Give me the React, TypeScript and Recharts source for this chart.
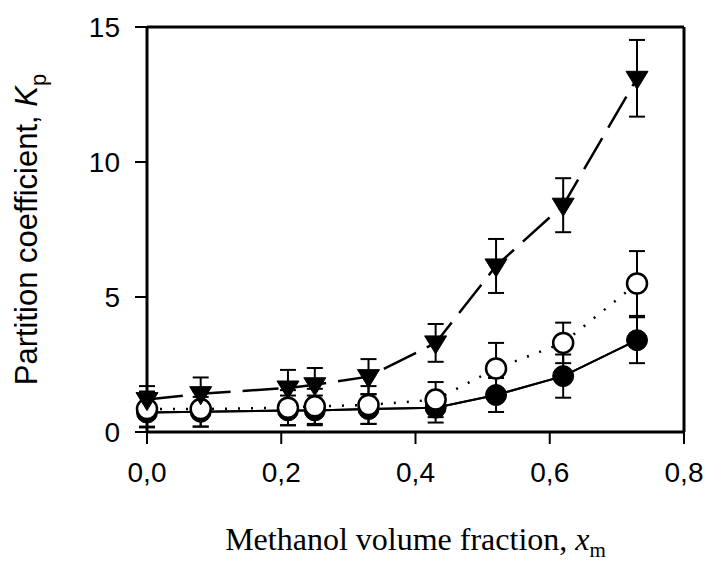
import React from 'react';
import { ComposedChart, Line, XAxis, YAxis, ErrorBar, ReferenceLine } from 'recharts';

const xValues = [0, 0.08, 0.21, 0.25, 0.33, 0.43, 0.52, 0.62, 0.73];
const triangleValues = [1.2, 1.42, 1.63, 1.75, 2.05, 3.3, 6.15, 8.4, 13.1];
const triangleErrors = [0.5, 0.6, 0.67, 0.62, 0.65, 0.7, 1.0, 1.0, 1.42];
const openValues = [0.85, 0.85, 0.9, 0.95, 1.0, 1.2, 2.35, 3.3, 5.5];
const openErrors = [0.65, 0.65, 0.65, 0.65, 0.7, 0.65, 0.95, 0.75, 1.2];
const filledValues = [0.72, 0.75, 0.8, 0.8, 0.85, 0.9, 1.37, 2.07, 3.4];
const filledErrors = [0.55, 0.55, 0.55, 0.55, 0.55, 0.55, 0.63, 0.8, 0.85];
const xTicks = [0, 0.2, 0.4, 0.6, 0.8];
const yTicks = [0, 5, 10, 15];

const data = xValues.map((x, i) => ({
  x,
  tri: triangleValues[i],
  triErr: triangleErrors[i],
  open: openValues[i],
  openErr: openErrors[i],
  filled: filledValues[i],
  filledErr: filledErrors[i],
}));

const SANS = 'Arial, "Liberation Sans", sans-serif';
const SERIF = '"Times New Roman", "Liberation Serif", serif';

const TriangleDot = (props: any) => {
  const { cx, cy, index } = props;
  if (cx == null || cy == null) return <g key={`t-${index}`} />;
  return (
    <path
      key={`t-${index}`}
      d={`M${cx - 11},${cy - 7} L${cx + 11},${cy - 7} L${cx},${cy + 11} Z`}
      fill="#000"
      stroke="#000"
      strokeWidth={1}
    />
  );
};

const XTitle = (props: any) => {
  const vb = props.viewBox || {};
  const cx = vb.x + vb.width / 2;
  const y = vb.y + 118;
  return (
    <text x={cx} y={y} textAnchor="middle" fontFamily={SERIF} fontSize={32} fill="#000">
      <tspan>Methanol volume fraction, </tspan>
      <tspan fontStyle="italic">x</tspan>
      <tspan fontSize={21} dy={7}>m</tspan>
    </text>
  );
};

const YTitle = (props: any) => {
  const vb = props.viewBox || {};
  const x = vb.x + 37;
  const cy = vb.y + vb.height / 2;
  return (
    <text
      x={x}
      y={cy}
      textAnchor="middle"
      fontFamily={SANS}
      fontSize={31}
      fill="#000"
      transform={`rotate(-90 ${x} ${cy})`}
    >
      <tspan>Partition coefficient, </tspan>
      <tspan fontStyle="italic">K</tspan>
      <tspan fontSize={22} dy={9}>p</tspan>
    </text>
  );
};

export default function App() {
  return (
    <div style={{ position: 'absolute', left: 0, top: 0, background: '#fff' }}>
      <ComposedChart
        width={709}
        height={563}
        data={data}
        margin={{ top: 27, right: 25, bottom: 0, left: 0 }}
      >
        <XAxis
          type="number"
          dataKey="x"
          domain={[0, 0.8]}
          ticks={xTicks}
          tickFormatter={(v: number) => v.toFixed(1).replace('.', ',')}
          tickSize={12}
          tickMargin={18}
          tick={{ fontFamily: SANS, fontSize: 28, fill: '#000' }}
          axisLine={{ stroke: '#000', strokeWidth: 3 }}
          tickLine={{ stroke: '#000', strokeWidth: 2 }}
          height={131}
          label={{ content: XTitle }}
        />
        <YAxis
          type="number"
          domain={[0, 15]}
          ticks={yTicks}
          tickSize={12}
          tickMargin={15}
          tick={{ fontFamily: SANS, fontSize: 28, fill: '#000' }}
          axisLine={{ stroke: '#000', strokeWidth: 3 }}
          tickLine={{ stroke: '#000', strokeWidth: 2 }}
          width={147}
          label={{ content: YTitle }}
        />
        <ReferenceLine y={15} stroke="#000" strokeWidth={3} />
        <ReferenceLine x={0.8} stroke="#000" strokeWidth={3} />
        <Line
          type="linear"
          dataKey="filled"
          stroke="#000"
          strokeWidth={2}
          dot={{ r: 10.5, fill: '#000', stroke: '#000', strokeWidth: 1 }}
          activeDot={false}
          isAnimationActive={false}
        >
          <ErrorBar dataKey="filledErr" direction="y" width={8} stroke="#000" strokeWidth={2} />
        </Line>
        <Line
          type="linear"
          dataKey="open"
          stroke="#000"
          strokeWidth={2.5}
          strokeDasharray="2 11"
          dot={{ r: 10, fill: '#fff', stroke: '#000', strokeWidth: 2.5, strokeDasharray: '' }}
          activeDot={false}
          isAnimationActive={false}
        />
        <Line
          type="linear"
          dataKey="filled"
          stroke="#000"
          strokeWidth={2}
          dot={false}
          activeDot={false}
          legendType="none"
          isAnimationActive={false}
        />
        <Line
          type="linear"
          dataKey="open"
          stroke="none"
          dot={false}
          activeDot={false}
          legendType="none"
          isAnimationActive={false}
        >
          <ErrorBar dataKey="openErr" direction="y" width={8} stroke="#000" strokeWidth={2} />
        </Line>
        <Line
          type="linear"
          dataKey="tri"
          stroke="#000"
          strokeWidth={2.5}
          strokeDasharray="36 12"
          dot={TriangleDot}
          activeDot={false}
          isAnimationActive={false}
        >
          <ErrorBar dataKey="triErr" direction="y" width={8} stroke="#000" strokeWidth={2} />
        </Line>
      </ComposedChart>
    </div>
  );
}
